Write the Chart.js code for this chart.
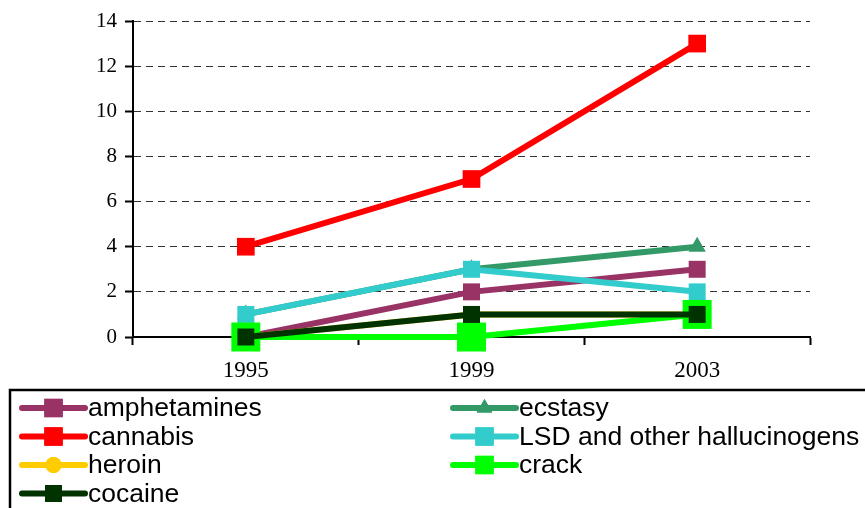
<!DOCTYPE html>
<html>
<head>
<meta charset="utf-8">
<script src="https://cdn.jsdelivr.net/npm/chart.js@4/dist/chart.umd.min.js"></script>
<style>
html,body{margin:0;padding:0;background:#fff;}
#wrap{width:865px;height:508px;position:relative;}
</style>
</head>
<body>
<div id="wrap"><canvas id="c" width="865" height="508"></canvas></div>
<script>
// ---- data ----
const years = ['1995', '1999', '2003'];
const yTicks = [0, 2, 4, 6, 8, 10, 12, 14];
const amphetamines = [0, 2, 3];
const ecstasy = [1, 3, 4];
const cannabis = [4, 7, 13];
const lsd = [1, 3, 2];
const heroin = [0, 1, 1];
const crack = [0, 0, 1];
const cocaine = [0, 1, 1];
const seriesNames = ['amphetamines', 'ecstasy', 'cannabis', 'LSD and other hallucinogens', 'heroin', 'crack', 'cocaine'];

const colors = {
  amphetamines: '#993366', ecstasy: '#339966', cannabis: '#FF0000',
  lsd: '#33CCCC', heroin: '#FFCC00', crack: '#00FF00', cocaine: '#003300'
};

function ds(label, data, color, style, radius, order, legendRadius) {
  return {
    label, data, borderColor: color, backgroundColor: color,
    pointBackgroundColor: color, pointBorderColor: color, pointBorderWidth: 0,
    pointStyle: style, pointRadius: radius, pointHoverRadius: radius,
    borderWidth: 6, tension: 0, order, legendRadius, clip: false
  };
}

const datasets = [
  ds(seriesNames[0], amphetamines, colors.amphetamines, 'rect', 12, 6, 13),
  ds(seriesNames[1], ecstasy, colors.ecstasy, 'triangle', 10, 3, 9),
  ds(seriesNames[2], cannabis, colors.cannabis, 'rect', 12.5, 5, 13),
  ds(seriesNames[3], lsd, colors.lsd, 'rect', 12, 2, 13),
  ds(seriesNames[4], heroin, colors.heroin, 'circle', 8, 4, 8),
  ds(seriesNames[5], crack, colors.crack, 'rect', 20.5, 1, 13),
  ds(seriesNames[6], cocaine, colors.cocaine, 'rect', 12, 0, 12)
];

const legendPlugin = {
  id: 'boxLegend',
  afterDraw(chart) {
    const ctx = chart.ctx;
    ctx.save();
    ctx.strokeStyle = '#000';
    ctx.lineWidth = 2.5;
    ctx.strokeRect(10, 390, 870, 140);
    const colX = [22, 453];
    const rowY = [408, 436.5, 465, 493.5];
    chart.data.datasets.forEach((d, i) => {
      const x = colX[i % 2];
      const y = rowY[Math.floor(i / 2)];
      ctx.strokeStyle = d.borderColor;
      ctx.lineWidth = 6;
      ctx.lineCap = 'round';
      ctx.beginPath();
      ctx.moveTo(x, y);
      ctx.lineTo(x + 63, y);
      ctx.stroke();
      ctx.fillStyle = d.backgroundColor;
      Chart.helpers.drawPoint(ctx, {pointStyle: d.pointStyle, radius: d.legendRadius, rotation: 0, borderWidth: 0}, x + 31.5, y);
      ctx.fill();
      ctx.fillStyle = '#000';
      ctx.font = '26.5px "Liberation Sans", Arial, sans-serif';
      ctx.textBaseline = 'middle';
      ctx.textAlign = 'left';
      ctx.fillText(d.label, x + 66, y + 1);
    });
    ctx.restore();
  }
};

new Chart(document.getElementById('c'), {
  type: 'line',
  data: { labels: years, datasets },
  options: {
    responsive: false,
    devicePixelRatio: 1,
    animation: false,
    events: [],
    layout: { padding: { left: 0, right: 55, top: 21, bottom: 0 } },
    plugins: { legend: { display: false }, tooltip: { enabled: false } },
    scales: {
      x: {
        type: 'category',
        offset: true,
        afterFit(s) { s.height = 171; },
        grid: { offset: true, drawOnChartArea: false, drawTicks: true, tickLength: 8, tickColor: '#000', tickWidth: 2 },
        border: { display: true, color: '#000', width: 2 },
        ticks: { color: '#000', padding: 12, font: { family: '"Liberation Serif", "Times New Roman", serif', size: 23 } }
      },
      y: {
        min: 0, max: 14,
        afterFit(s) { s.width = 133; },
        afterBuildTicks(s) { s.ticks = yTicks.map(v => ({ value: v })); },
        grid: { color: '#333', lineWidth: 1, tickColor: '#000', tickWidth: 2, tickLength: 8, tickBorderDash: [] },
        border: { display: true, color: '#000', width: 2, dash: [7, 5] },
        ticks: { color: '#000', padding: 8, font: { family: '"Liberation Serif", "Times New Roman", serif', size: 21 } }
      }
    }
  },
  plugins: [legendPlugin]
});
</script>
</body>
</html>
